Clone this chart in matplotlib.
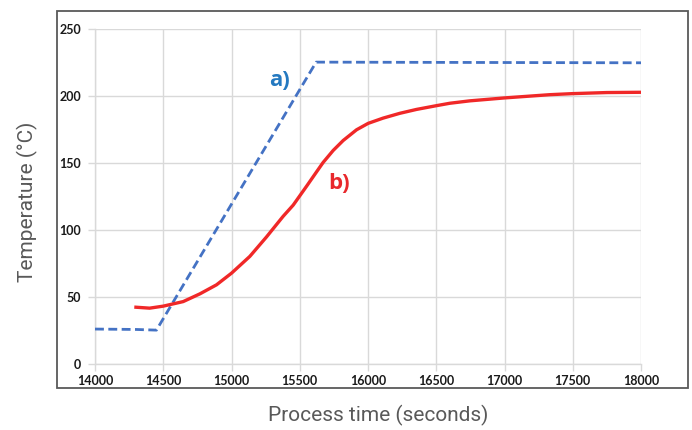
import matplotlib
matplotlib.use("Agg")
import matplotlib.pyplot as plt
from matplotlib.patches import Rectangle

# Data
set_time = [14000, 14300, 14450, 15620, 18000]
set_temp = [26.3, 26.0, 25.5, 225.5, 225.0]

meas_time = [14300, 14400, 14500, 14646, 14769, 14890, 15000, 15134, 15256, 15378,
             15452, 15550, 15623, 15671, 15745, 15818, 15916, 16001, 16110, 16233,
             16355, 16501, 16599, 16745, 17001, 17331, 17500, 17750, 18000]
meas_temp = [42.6, 41.9, 43.4, 46.8, 52.6, 59.3, 68.0, 80.5, 95.0, 110.4,
             118.8, 132.9, 143.6, 150.6, 159.6, 167.0, 175.0, 179.8, 183.7, 187.3,
             190.2, 193.0, 194.8, 196.6, 198.8, 201.2, 202.0, 202.8, 203.0]

xticks = [14000, 14500, 15000, 15500, 16000, 16500, 17000, 17500, 18000]
yticks = [0, 50, 100, 150, 200, 250]

W, H = 692, 430
fig = plt.figure(figsize=(W / 100, H / 100), dpi=100)
ax = fig.add_axes([95 / W, 1 - 364.3 / H, (641 - 95) / W, (364.3 - 29.3) / H])

ax.plot(set_time, set_temp, color="#4472C4", lw=2.0, dashes=(3.2, 1.6), zorder=3)
ax.plot(meas_time, meas_temp, color="#F02828", lw=2.4, zorder=4,
        solid_joinstyle="round")

ax.set_xlim(14000, 18000)
ax.set_ylim(0, 250)
ax.set_xticks(xticks)
ax.set_yticks(yticks)
ax.grid(True, color="#d9d9d9", lw=1.0)
ax.set_axisbelow(True)
for s in ["top", "right"]:
    ax.spines[s].set_visible(False)
for s in ["left", "bottom"]:
    ax.spines[s].set_color("#d9d9d9")
    ax.spines[s].set_linewidth(1.0)
ax.tick_params(axis="both", length=5, color="#d9d9d9", width=1.0)
ax.tick_params(axis="y", pad=5)
ax.tick_params(axis="x", pad=3)
for lab in ax.get_xticklabels() + ax.get_yticklabels():
    lab.set_fontfamily(["Lato", "DejaVu Sans"])
    lab.set_fontweight("bold")
    lab.set_fontsize(9)
    lab.set_color("#1a1a1a")

ax.text(15354, 212, "a)", color="#2479C0", fontsize=16, fontweight="bold",
        family=["Open Sans", "DejaVu Sans"], ha="center", va="center")
ax.text(15786, 135, "b)", color="#E8282C", fontsize=16, fontweight="bold",
        family=["Open Sans", "DejaVu Sans"], ha="center", va="center")

# Outer chart-area box
fig.patches.append(Rectangle((57 / W, 1 - 388 / H), (688 - 57) / W, (388 - 11) / H,
                             transform=fig.transFigure, fill=False,
                             edgecolor="#595959", lw=1.3))

fig.text(378 / W, 1 - 415 / H, "Process time (seconds)", ha="center", va="center",
         fontsize=15, color="#595959", family=["Roboto", "DejaVu Sans"])
fig.text(27 / W, 1 - 202 / H, "Temperature (°C)", ha="center", va="center", rotation=90,
         fontsize=15, color="#595959", family=["Roboto", "DejaVu Sans"])

fig.savefig("out.png", dpi=100)
